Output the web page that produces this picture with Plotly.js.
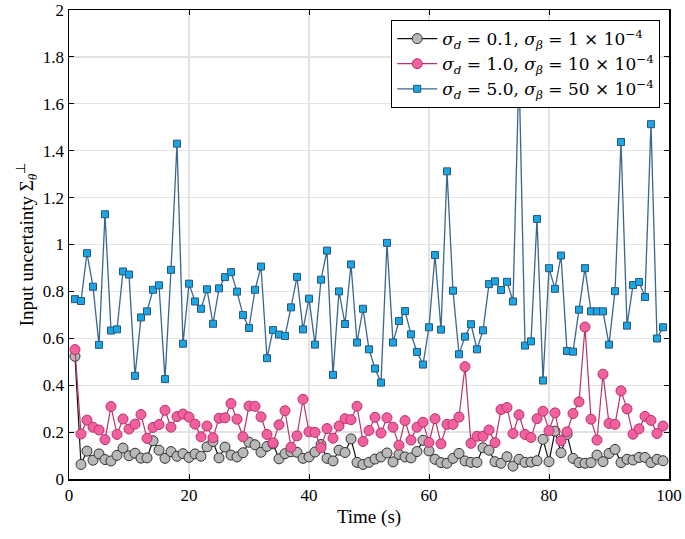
<!DOCTYPE html>
<html>
<head>
<meta charset="utf-8">
<script src="https://cdn.plot.ly/plotly-3.0.1.min.js"></script>
<style>html,body{margin:0;padding:0;background:#fff;}#chart{width:685px;height:539px;}</style>
</head>
<body>
<div id="chart"></div>
<script>
const timeS = [1,2,3,4,5,6,7,8,9,10,11,12,13,14,15,16,17,18,19,20,21,22,23,24,25,26,27,28,29,30,31,32,33,34,35,36,37,38,39,40,41,42,43,44,45,46,47,48,49,50,51,52,53,54,55,56,57,58,59,60,61,62,63,64,65,66,67,68,69,70,71,72,73,74,75,76,77,78,79,80,81,82,83,84,85,86,87,88,89,90,91,92,93,94,95,96,97,98,99];

const seriesLow = [0.523,0.062,0.119,0.080,0.107,0.083,0.077,0.101,0.132,0.099,
0.110,0.089,0.090,0.163,0.123,0.088,0.117,0.097,0.108,0.092,
0.107,0.097,0.137,0.160,0.090,0.136,0.102,0.094,0.112,0.157,
0.146,0.114,0.139,0.150,0.086,0.108,0.116,0.114,0.088,0.094,
0.115,0.147,0.088,0.077,0.123,0.113,0.171,0.071,0.062,0.071,
0.085,0.094,0.111,0.073,0.105,0.094,0.090,0.117,0.165,0.120,
0.084,0.070,0.067,0.088,0.109,0.077,0.071,0.071,0.133,0.123,
0.074,0.067,0.095,0.055,0.084,0.071,0.072,0.078,0.169,0.074,
0.204,0.112,0.190,0.088,0.070,0.067,0.070,0.102,0.074,0.109,
0.126,0.070,0.084,0.081,0.092,0.092,0.070,0.084,0.078];

const seriesMid = [0.552,0.192,0.251,0.221,0.209,0.168,0.309,0.190,0.256,0.213,
0.234,0.275,0.173,0.220,0.232,0.293,0.221,0.266,0.277,0.264,
0.234,0.180,0.226,0.176,0.259,0.261,0.322,0.255,0.180,0.311,
0.310,0.265,0.190,0.154,0.231,0.291,0.135,0.184,0.340,0.201,
0.199,0.133,0.215,0.174,0.226,0.257,0.253,0.310,0.160,0.207,
0.263,0.196,0.261,0.221,0.144,0.249,0.166,0.221,0.242,0.156,
0.257,0.150,0.233,0.233,0.264,0.479,0.152,0.182,0.182,0.209,
0.155,0.296,0.305,0.194,0.274,0.190,0.177,0.257,0.289,0.206,
0.282,0.163,0.201,0.279,0.329,0.648,0.255,0.166,0.447,0.237,
0.233,0.376,0.299,0.191,0.214,0.267,0.250,0.194,0.226];

const seriesHigh = [0.767,0.759,0.963,0.820,0.572,1.129,0.633,0.638,0.885,0.872,
0.440,0.689,0.715,0.807,0.826,0.426,0.892,1.430,0.577,0.833,
0.757,0.726,0.809,0.662,0.813,0.861,0.882,0.799,0.699,0.644,
0.807,0.906,0.515,0.635,0.616,0.610,0.732,0.862,0.638,0.769,
0.573,0.850,0.974,0.444,0.800,0.661,0.915,0.582,0.726,0.553,
0.471,0.411,1.007,0.582,0.674,0.716,0.617,0.542,0.488,0.647,
0.955,0.637,1.312,0.803,0.532,0.607,0.660,0.553,0.634,0.831,
0.843,0.806,0.841,0.757,1.750,0.569,0.587,1.109,0.420,0.899,
0.811,0.953,0.546,0.543,0.722,0.899,0.715,0.715,0.715,0.573,
0.801,1.437,0.654,0.827,0.840,0.776,1.513,0.599,0.647];

const seriesNames = [
  "<i>σ<sub>d</sub></i> = 0.1, <i>σ<sub>β</sub></i> = 1 × 10<sup>−4</sup>",
  "<i>σ<sub>d</sub></i> = 1.0, <i>σ<sub>β</sub></i> = 10 × 10<sup>−4</sup>",
  "<i>σ<sub>d</sub></i> = 5.0, <i>σ<sub>β</sub></i> = 50 × 10<sup>−4</sup>"
];
const xTicks = [0,20,40,60,80,100];

const FONT = "Liberation Serif, Times New Roman, serif";
const LFONT = "DejaVu Serif, serif";

const traces = [
  {x: timeS, y: seriesLow, name: seriesNames[0], type: 'scatter', mode: 'lines+markers',
   line: {color: '#111111', width: 1.2},
   marker: {symbol: 'circle', size: 10, color: '#b8b8b8', line: {color: '#333333', width: 1}}},
  {x: timeS, y: seriesMid, name: seriesNames[1], type: 'scatter', mode: 'lines+markers',
   line: {color: '#b8336a', width: 1.2},
   marker: {symbol: 'circle', size: 10, color: '#f2609f', line: {color: '#b8336a', width: 1}}},
  {x: timeS, y: seriesHigh, name: seriesNames[2], type: 'scatter', mode: 'lines+markers',
   line: {color: '#3a6790', width: 1.3},
   marker: {symbol: 'square', size: 7, color: '#19a6e6', line: {color: '#2b5578', width: 1}}}
];

const layout = {
  width: 685, height: 539,
  margin: {l: 69, r: 16, t: 10, b: 60},
  paper_bgcolor: '#ffffff', plot_bgcolor: '#ffffff',
  font: {family: FONT, size: 17, color: '#000'},
  showlegend: true,
  legend: {x: 0.985, y: 0.979, xanchor: 'right', yanchor: 'top',
    bgcolor: '#ffffff', bordercolor: '#000', borderwidth: 1.2,
    font: {family: LFONT, size: 17, color: '#000'}, tracegroupgap: 0, itemwidth: 40},
  xaxis: {range: [0, 100], tickvals: xTicks, ticks: 'inside', ticklen: 5, tickwidth: 1,
    tickcolor: '#000', showline: true, linecolor: '#000', linewidth: 1.5, mirror: 'ticks',
    showgrid: true, gridcolor: '#e3e3e3', gridwidth: 1.3, zeroline: false,
    title: {text: 'Time (s)', font: {family: FONT, size: 19}, standoff: 6},
    tickfont: {family: FONT, size: 17}},
  yaxis: {range: [0, 2], dtick: 0.2, tick0: 0, ticks: 'inside', ticklen: 5, tickwidth: 1,
    tickcolor: '#000', showline: true, linecolor: '#000', linewidth: 1.5, mirror: 'ticks',
    showgrid: true, gridcolor: '#e3e3e3', gridwidth: 1.3, zeroline: false,
    title: {text: 'Input uncertainty Σ<sub><i>θ</i></sub><sup>⊥</sup>', font: {family: FONT, size: 19}, standoff: 4},
    tickfont: {family: FONT, size: 17}}
};

Plotly.newPlot('chart', traces, layout, {displayModeBar: false, staticPlot: true});
</script>
</body>
</html>
